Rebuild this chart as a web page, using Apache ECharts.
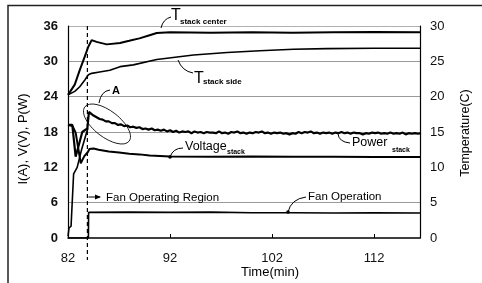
<!DOCTYPE html>
<html><head><meta charset="utf-8">
<script src="https://cdn.jsdelivr.net/npm/echarts@6/dist/echarts.min.js"></script>
<style>html,body{margin:0;padding:0;background:#fff}#c{width:482px;height:283px}</style>
</head><body><div id="c"></div>
<script>
// ---- data ----
const xTicks = [82, 92, 102, 112];
const fanStartTime = 83.9;
// T stack center (deg C) [time, temp]
const tCenter = [[82.0,20.25],[82.66,21.7],[83.15,23.75],[83.65,25.7],[84.0,27.1],[84.32,28.0],[84.8,27.75],[85.8,27.4],[87.1,27.6],[88.0,27.9],[89.0,28.25],[90.0,28.7],[90.7,29.0],[92.0,29.1],[96,29.05],[100,29.1],[104,29.05],[108,29.1],[112,29.15],[116.5,29.1]];
// T stack side (deg C)
const tSide = [[82.0,20.25],[82.66,20.75],[83.15,21.4],[83.65,22.35],[84.0,23.1],[84.32,23.3],[85.1,23.5],[86.1,23.75],[87.1,24.25],[88.4,24.5],[90.7,25.25],[94.3,25.9],[97.6,26.25],[100.8,26.5],[104.1,26.7],[107.4,26.8],[112.0,26.85],[116.5,26.85]];
// Power stack (W): early part, then sampled noisy part
const powerEarly = [[82.0,19.2],[82.42,19.2],[82.75,13.8],[83.4,18.0],[83.9,18.6],[84.05,21.4]];
const powerStart = 84.2, powerStep = 0.3;
const powerValues = [21.1,20.8,20.5,20.2,20.1,19.8,19.8,19.5,19.5,19.2,
  19.3,19.0,19.1,18.8,18.9,18.7,18.8,18.5,18.6,18.4,
  18.6,18.3,18.4,18.2,18.4,18.1,18.3,18.0,18.2,17.9,
  18.1,18.0,18.1,17.8,18.1,17.9,18.0,17.8,18.0,17.9,
  17.9,17.8,18.1,17.8,17.9,17.7,18.0,17.9,18.1,17.8,
  17.9,17.7,17.9,17.8,18.0,17.9,18.1,17.8,17.9,17.7,
  17.9,17.8,17.9,17.7,17.8,17.6,17.8,17.7,18.0,17.8,
  18.0,17.9,18.1,17.8,17.9,17.7,17.9,17.8,17.9,17.7,
  17.9,17.8,18.0,17.8,17.9,17.7,17.9,17.8,17.8,17.6,
  17.8,17.7,17.9,17.8,17.9,17.7,17.8,17.7,17.9,17.7,
  17.8,17.7,17.9,17.6,17.8,17.7,17.8,17.7,17.8];
// Voltage stack (V)
const voltage = [[82.0,19.2],[82.45,19.0],[82.75,17.9],[83.25,12.7],[83.6,13.9],[83.95,14.6],[84.1,15.1],[84.5,15.2],[85.0,15.0],[86.0,14.7],[87.0,14.5],[88.0,14.3],[89.0,14.2],[90.0,14.0],[92.0,13.85],[96,13.8],[100,13.85],[104,13.8],[108,13.8],[112,13.75],[116.5,13.75]];
// Current (A) at start-up
const current = [[82.0,0.3],[82.1,1.7],[82.3,2.0],[82.55,10.9],[82.9,12.0],[83.3,14.8],[83.7,17.2],[83.95,18.6]];
// Fan operation
const fan = [[82.0,0],[84.0,0],[84.02,4.35],[88,4.4],[92,4.35],[96,4.4],[100,4.3],[104,4.3],[108,4.25],[112,4.3],[116.5,4.25]];

const powerSeries = powerEarly.concat(powerValues.map((v,i)=>[+(powerStart+i*powerStep).toFixed(2), v]));

const chart = echarts.init(document.getElementById('c'), null, {renderer:'canvas'});
const FONT = 'Liberation Sans, Arial, sans-serif';
const lineS = (name, data, w, yIdx) => ({name, type:'line', data, yAxisIndex:yIdx||0, symbol:'none', silent:true,
  lineStyle:{color:'#000', width:w}, animation:false});

chart.setOption({
  animation:false,
  grid:{left:68, right:62, top:26, bottom:45, containLabel:false},
  xAxis:{type:'value', min:82, max:116.5,
    axisLine:{lineStyle:{color:'#000', width:1.5}},
    axisTick:{inside:true, length:4, customValues:xTicks, lineStyle:{color:'#000'}},
    axisLabel:{customValues:xTicks, fontFamily:FONT, fontSize:13, color:'#111', margin:14},
    splitLine:{show:false}},
  yAxis:[
    {type:'value', min:0, max:36, interval:6, position:'left',
      axisLine:{show:true, lineStyle:{color:'#000', width:1.2}}, axisTick:{show:false},
      axisLabel:{fontFamily:FONT, fontSize:13, fontWeight:'bold', color:'#111', margin:10},
      splitLine:{show:true, lineStyle:{color:['rgba(0,0,0,0)','#9a9a9a','rgba(0,0,0,0)','#9a9a9a','#9a9a9a','#9a9a9a','#b0b0b0'], width:1}}},
    {type:'value', min:0, max:30, interval:5, position:'right',
      axisLine:{show:true, lineStyle:{color:'#000', width:1.2}}, axisTick:{show:false},
      axisLabel:{fontFamily:FONT, fontSize:13, color:'#111', margin:10},
      splitLine:{show:false}}
  ],
  series:[
    lineS('T stack center', tCenter, 2, 1),
    lineS('T stack side', tSide, 1.6, 1),
    lineS('Power stack', powerSeries, 2.2, 0),
    lineS('Voltage stack', voltage, 2, 0),
    lineS('Current', current, 1.6, 0),
    lineS('Fan Operation', fan, 1.6, 0)
  ]
});

const fx = chart.convertToPixel({xAxisIndex:0}, fanStartTime);
const txt = (x,y,text,size,opt) => Object.assign({type:'text', x, y, silent:true,
  style:Object.assign({text, fill:'#000', font:(opt&&opt.weight||'normal')+' '+size+'px '+FONT, textVerticalAlign:'middle', textAlign:'left'}, opt&&opt.style)}, opt&&opt.el);
const curve = (x1,y1,cx,cy,x2,y2) => ({type:'bezierCurve', silent:true, shape:{x1,y1,x2,y2,cpx1:cx,cpy1:cy}, style:{stroke:'#000', lineWidth:1, fill:null}});
const dot = (x,y) => ({type:'circle', silent:true, shape:{cx:x, cy:y, r:1.8}, style:{fill:'#000'}});

chart.setOption({graphic:[
  // outer frame
  {type:'polyline', silent:true, shape:{points:[[8,283],[8,5.5],[482,5.5]]}, style:{stroke:'#222', lineWidth:1.5, fill:null}},
  // fan start dashed line
  {type:'line', silent:true, shape:{x1:fx, y1:26, x2:fx, y2:260}, style:{stroke:'#000', lineWidth:1.2, lineDash:[4,3]}},
  // fan operating region arrow
  {type:'line', silent:true, shape:{x1:fx+1, y1:197, x2:100, y2:197}, style:{stroke:'#000', lineWidth:1}},
  {type:'polygon', silent:true, shape:{points:[[95,194.5],[101,197],[95,199.5]]}, style:{fill:'#000'}},
  txt(106,197.5,'Fan Operating Region',11.5),
  // axis titles
  txt(270,272,'Time(min)',13,{style:{textAlign:'center'}}),
  txt(23,139,'I(A), V(V), P(W)',13,{el:{rotation:Math.PI/2}, style:{textAlign:'center'}}),
  txt(466,133,'Temperature(C)',12.5,{el:{rotation:Math.PI/2}, style:{textAlign:'center'}}),
  // T stack center
  curve(161,28,163,19,171,17),
  txt(171,16,'T',16),
  txt(180,22,'stack center',8,{weight:'bold'}),
  // T stack side
  curve(178,60,182,71,193,73),
  txt(194,79,'T',16),
  txt(203,82,'stack side',8,{weight:'bold'}),
  // A
  {type:'ellipse', silent:true, x:107, y:124, rotation:-0.66, shape:{cx:0, cy:0, rx:28, ry:13}, style:{stroke:'#000', lineWidth:0.8, fill:null}},
  curve(99,103,101,91,110,90),
  txt(112,91,'A',11,{weight:'bold'}),
  // Voltage
  dot(170,157),
  curve(170,157,173,148,183,148),
  txt(185,147,'Voltage',12.5),
  txt(227,152,'stack',7,{weight:'bold'}),
  // Power
  curve(338,134,339,142,350,143),
  txt(352,143,'Power',12.5),
  txt(392,150,'stack',7,{weight:'bold'}),
  // Fan Operation
  dot(288,212),
  curve(288,212,291,199,306,197),
  txt(308,197,'Fan Operation',11.5)
]});
</script></body></html>
